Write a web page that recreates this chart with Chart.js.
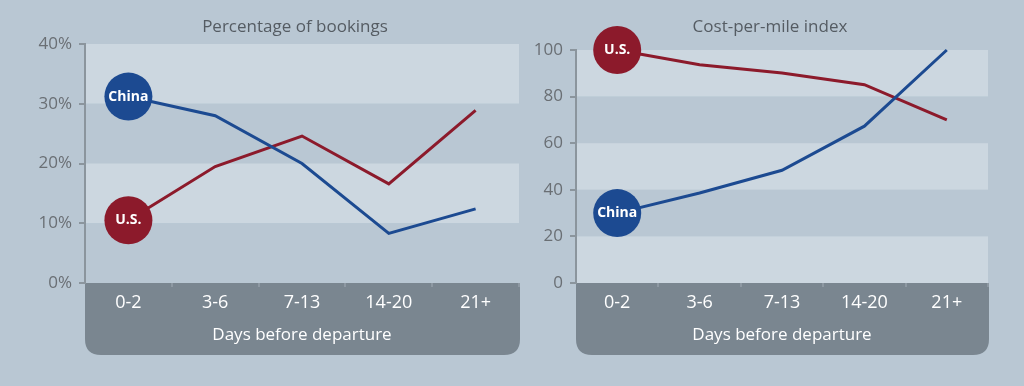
<!DOCTYPE html>
<html>
<head>
<meta charset="utf-8">
<script src="https://cdn.jsdelivr.net/npm/chart.js@4/dist/chart.umd.min.js"></script>
<style>
  html, body { margin: 0; padding: 0; background: #b9c7d3; }
  .wrap { position: absolute; top: 0; height: 386px; }
  #w1 { left: 0; width: 525px; }
  #w2 { left: 525px; width: 499px; }
</style>
</head>
<body>
<div class="wrap" id="w1"><canvas id="bookings"></canvas></div>
<div class="wrap" id="w2"><canvas id="cost"></canvas></div>
<script>
// data
var categories = ['0-2', '3-6', '7-13', '14-20', '21+'];
var seriesNames = ['China', 'U.S.'];
var chinaBookings = [31.2, 28, 20, 8.3, 12.4];
var usBookings = [10.5, 19.5, 24.6, 16.6, 28.9];
var chinaCost = [30, 38.6, 48.4, 67.3, 100];
var usCost = [100, 93.7, 90.1, 85.1, 70];
var bookingsTitle = 'Percentage of bookings';
var costTitle = 'Cost-per-mile index';
var xTitle = 'Days before departure';

var FONT = "'Open Sans', 'Noto Sans', sans-serif";
var BLUE = '#1c4a91';
var RED = '#8c1a2b';
var LIGHT = '#ccd7e0';
var DARK = '#b9c7d3';
var BOX = '#7a8690';
var AXIS = '#8b959d';

// bands + bottom grey box, drawn before everything else
var backdrop = {
  id: 'backdrop',
  beforeDraw: function(chart) {
    var c = chart.ctx, a = chart.chartArea, y = chart.scales.y;
    var ticks = y.ticks;
    c.save();
    var n = 0;
    for (var i = ticks.length - 1; i > 0; i--) {
      var top = y.getPixelForValue(ticks[i].value);
      var bot = y.getPixelForValue(ticks[i - 1].value);
      c.fillStyle = (n % 2 === 0) ? LIGHT : DARK;
      c.fillRect(a.left, top, a.right - a.left, bot - top);
      n++;
    }
    // rounded box behind the x axis
    var bx = a.left, by = a.bottom, bw = a.right - a.left + 1, bh = 72, r = 16;
    c.fillStyle = BOX;
    c.beginPath();
    c.moveTo(bx, by);
    c.lineTo(bx + bw, by);
    c.lineTo(bx + bw, by + bh - r);
    c.quadraticCurveTo(bx + bw, by + bh, bx + bw - r, by + bh);
    c.lineTo(bx + r, by + bh);
    c.quadraticCurveTo(bx, by + bh, bx, by + bh - r);
    c.closePath();
    c.fill();
    // chart heading
    c.fillStyle = '#555c63';
    c.font = '17px ' + FONT;
    c.textAlign = 'center';
    c.textBaseline = 'middle';
    var t = chart.options.plugins.heading;
    c.fillText(t.text, (a.left + a.right) / 2 + t.shift, 27);
    c.restore();
  }
};

// names inside the big first-point circles
var circleLabels = {
  id: 'circleLabels',
  afterDatasetsDraw: function(chart) {
    var c = chart.ctx;
    c.save();
    c.fillStyle = '#ffffff';
    c.font = 'bold 14px ' + FONT;
    c.textAlign = 'center';
    c.textBaseline = 'middle';
    chart.data.datasets.forEach(function(ds, i) {
      var p = chart.getDatasetMeta(i).data[0];
      c.fillText(ds.label, p.x, p.y);
    });
    c.restore();
  }
};

function makeChart(id, china, us, title, shift, yMax, yStep, suffix, pad) {
  var ctx = document.getElementById(id).getContext('2d');
  function ds(label, values, color) {
    return {
      label: label,
      data: values,
      borderColor: color,
      backgroundColor: color,
      borderWidth: 3,
      tension: 0,
      clip: false,
      pointRadius: function(c) { return c.dataIndex === 0 ? 24 : 0; },
      pointHoverRadius: function(c) { return c.dataIndex === 0 ? 24 : 0; },
      pointBorderWidth: 0,
      pointBackgroundColor: color
    };
  }
  return new Chart(ctx, {
    type: 'line',
    data: {
      labels: categories,
      datasets: [ds(seriesNames[0], china, BLUE), ds(seriesNames[1], us, RED)]
    },
    options: {
      responsive: true,
      maintainAspectRatio: false,
      animation: false,
      layout: { padding: pad, autoPadding: false },
      plugins: {
        legend: { display: false },
        tooltip: { enabled: false },
        heading: { text: title, shift: shift }
      },
      scales: {
        x: {
          offset: true,
          grid: {
            drawOnChartArea: false, drawTicks: true, offset: true, tickLength: 4, lineWidth: 2,
            // only the inner separators, not the two outer edges
            color: function(c) { return c.index === 0 || c.index === categories.length ? 'rgba(0,0,0,0)' : '#8e99a3'; }
          },
          border: { display: false },
          ticks: { color: '#ffffff', font: { family: FONT, size: 18 }, padding: 5 },
          title: { display: true, text: xTitle, color: '#ffffff',
                   font: { family: FONT, size: 17 }, padding: { top: 0, bottom: 10 } },
          afterFit: function(s) { s.height = 72; s.paddingLeft = 0; s.paddingRight = 0; }
        },
        y: {
          min: 0,
          max: yMax,
          ticks: {
            stepSize: yStep,
            color: '#6a6f74',
            font: { family: FONT, size: 17 },
            padding: 7,
            callback: function(v) { return v + suffix; }
          },
          grid: { drawOnChartArea: false, drawTicks: true, tickLength: 6, color: AXIS, lineWidth: 2 },
          border: { display: true, color: AXIS, width: 2 },
          afterFit: function(s) { s.width = pad.yWidth; }
        }
      }
    },
    plugins: [backdrop, circleLabels]
  });
}

makeChart('bookings', chinaBookings, usBookings, bookingsTitle, -7, 40, 10, '%',
  { top: 44, bottom: 31, left: 0, right: 6, yWidth: 85 });
makeChart('cost', chinaCost, usCost, costTitle, -12, 100, 20, '',
  { top: 50, bottom: 31, left: 0, right: 36, yWidth: 51 });
</script>
</body>
</html>
